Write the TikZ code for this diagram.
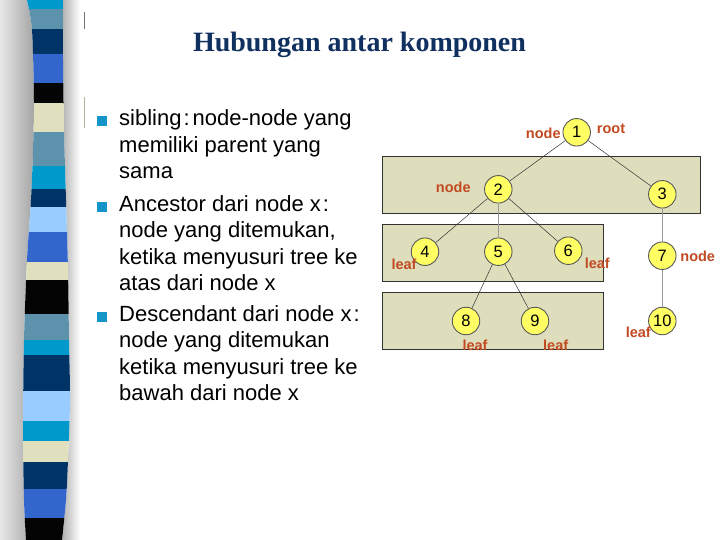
\documentclass[tikz,border=0pt]{standalone}
\usepackage{fontspec}
\setmainfont{Liberation Sans}
\newfontfamily\titlefont{Liberation Serif}
\definecolor{scyan}{RGB}{0,153,204}
\definecolor{ssteel}{RGB}{92,146,172}
\definecolor{snavy}{RGB}{0,51,102}
\definecolor{sroyal}{RGB}{51,102,204}
\definecolor{sblack}{RGB}{4,4,4}
\definecolor{sbeige}{RGB}{224,224,190}
\definecolor{slight}{RGB}{153,204,255}
\definecolor{titleblue}{RGB}{16,48,96}
\definecolor{bulletblue}{RGB}{20,150,200}
\definecolor{boxfill}{RGB}{222,222,188}
\definecolor{nodefill}{RGB}{255,255,100}
\definecolor{lblred}{RGB}{194,74,34}
\tikzset{
  tn/.style={circle, draw=black!65, line width=0.9pt, fill=nodefill, minimum size=27.5pt, inner sep=0pt, font=\fontsize{16.5}{18}\selectfont},
  lbl/.style={text=lblred, font=\bfseries\fontsize{14.5}{16}\selectfont, inner sep=0pt},
  edge/.style={draw=black!80, line width=0.5pt},
  gedge/.style={draw=black!40, line width=1.1pt},
  levelbox/.style={draw=black!80, line width=0.8pt, fill=boxfill},
  txt/.style={anchor=base west, inner sep=0pt, font=\fontsize{22}{26}\selectfont},
  bul/.style={fill=bulletblue, minimum size=10pt, inner sep=0pt}
}
\begin{document}
\begin{tikzpicture}[x=1pt,y=-1pt]
\useasboundingbox (0,0) rectangle (720,540);
\fill[white] (0,0) rectangle (720,540);
% shadows beside the stripe
\shade[left color=gray!18, right color=gray!72] (0,0) -- plot[smooth] coordinates {(27,0) (32,30) (34,100) (33,150) (31,200) (27,260) (24,340) (23,430) (24,500) (26,540)} -- (0,540) -- cycle;
\shade[left color=gray!62, right color=white] plot[smooth] coordinates {(63,0) (63,60) (64,130) (66,200) (68,270) (69,340) (70,400) (68,460) (66,500) (62,540)} -- (80,540) -- (80,0) -- cycle;
% stripes
\begin{scope}
\clip plot[smooth] coordinates {(27,0) (32,30) (34,100) (33,150) (31,200) (27,260) (24,340) (23,430) (24,500) (26,540)} -- plot[smooth] coordinates {(62,540) (66,500) (68,460) (70,400) (69,340) (68,270) (66,200) (64,130) (63,60) (63,0)} -- cycle;
\foreach \a/\b/\c in {0/9.3/scyan, 9.3/29/ssteel, 29/54/snavy, 54/83/sroyal, 83/103.5/sblack, 103.5/132.5/sbeige, 132.5/165.6/ssteel, 165.6/189.4/scyan, 189.4/207/snavy, 207/232/slight, 232/262/sroyal, 262/279.5/sbeige, 279.5/313.6/sblack, 313.6/340/ssteel, 340/355/scyan, 355/391/snavy, 391/421/slight, 421/440.5/scyan, 440.5/462.3/sbeige, 462.3/489/snavy, 489/517.5/sroyal, 517.5/541/sblack}
  \fill[\c] (10,\a) rectangle (90,{\b+0.4});
\end{scope}
\draw[black!55, line width=0.6pt] (84,12) -- (84,29);
\draw[sbeige!80!black, line width=0.4pt] (84,97) -- (84,128);
% title
\node[anchor=base, text=titleblue, font=\titlefont\bfseries\fontsize{28}{32}\selectfont, inner sep=0pt] (title) at (359.5,52) {Hubungan antar komponen};
% bullets and text
\node[bul] (b1) at (101.5,121.5) {};
\node[bul] (b2) at (101.5,207) {};
\node[bul] (b3) at (101.5,316.5) {};
\node[txt] (t1) at (119,126) {sibling\kern2pt:\kern3pt node-node yang};
\node[txt] (t2) at (119,152.3) {memiliki parent yang};
\node[txt] (t3) at (119,178.6) {sama};
\node[txt] (t4) at (119,211.5) {Ancestor dari node x\kern2pt:};
\node[txt] (t5) at (119,237.8) {node yang ditemukan,};
\node[txt] (t6) at (119,264.1) {ketika menyusuri tree ke};
\node[txt] (t7) at (119,290.4) {atas dari node x};
\node[txt] (t8) at (119,321.5) {Descendant dari node x\kern2pt:};
\node[txt] (t9) at (119,347.8) {node yang ditemukan};
\node[txt] (t10) at (119,374.1) {ketika menyusuri tree ke};
\node[txt] (t11) at (119,400.4) {bawah dari node x};
% level boxes
\draw[levelbox] (382.7,156.7) rectangle (700.7,213.3);
\draw[levelbox] (382.7,224.3) rectangle (603.3,281.7);
\draw[levelbox] (382.7,292.3) rectangle (603.3,349.3);
% tree nodes
\node[tn] (n1) at (576.7,132.3) {1};
\node[tn] (n2) at (498.3,189.3) {2};
\node[tn] (n3) at (662.3,194.3) {3};
\node[tn] (n4) at (425,251.7) {4};
\node[tn] (n5) at (498.3,251.7) {5};
\node[tn] (n6) at (568.3,250.7) {6};
\node[tn] (n7) at (662.3,255.7) {7};
\node[tn] (n8) at (466,321) {8};
\node[tn] (n9) at (535,321) {9};
\node[tn] (n10) at (662.3,321) {10};
% connectors
\draw[edge] (n1) -- (n2);
\draw[edge] (n1) -- (n3);
\draw[edge] (n2) -- (n4);
\draw[gedge] (n2) -- (n5);
\draw[edge] (n2) -- (n6);
\draw[gedge] (n3) -- (n7);
\draw[gedge] (n7) -- (n10);
\draw[edge] (n5) -- (n8);
\draw[edge] (n5) -- (n9);
% labels
\node[lbl] (l1) at (543.3,133.3) {node};
\node[lbl] (l2) at (611,129.3) {root};
\node[lbl] (l3) at (453.3,187.3) {node};
\node[lbl] (l4) at (404,264.3) {leaf};
\node[lbl] (l5) at (597.3,263.3) {leaf};
\node[lbl] (l6) at (697.7,256.7) {node};
\node[lbl] (l7) at (475,345) {leaf};
\node[lbl] (l8) at (555.7,345) {leaf};
\node[lbl] (l9) at (638.3,332.7) {leaf};
\end{tikzpicture}
\end{document}
